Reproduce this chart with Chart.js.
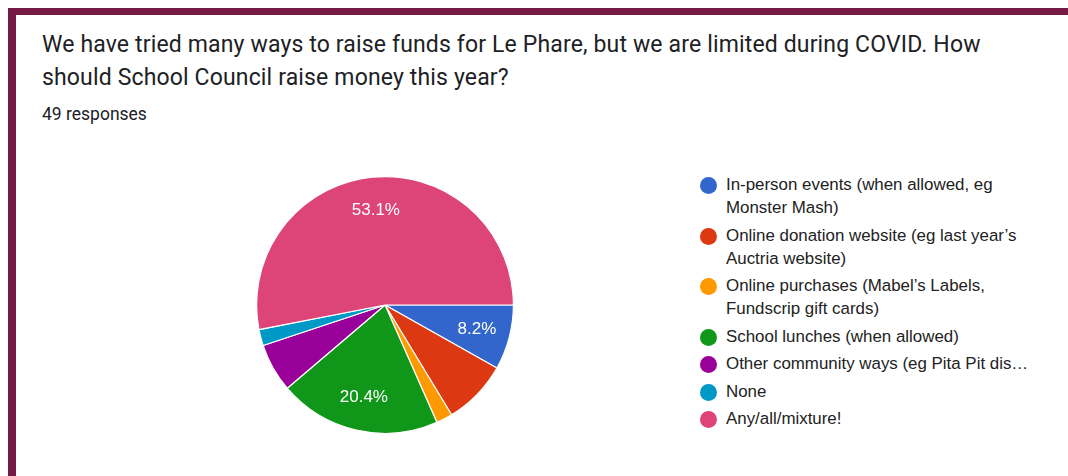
<!DOCTYPE html>
<html lang="en">
<head>
  <meta charset="UTF-8" />
  <title>School Council fundraising</title>
  <script src="https://cdn.jsdelivr.net/npm/chart.js"></script>
  <style>
    body {
      margin: 0;
      width: 1068px;
      height: 476px;
      background: #fff;
      position: relative;
      overflow: hidden;
      font-family: Roboto, 'Noto Sans', sans-serif;
      color: #202124;
    }

    /* maroon frame on the top and left edges */
    .frame {
      position: absolute;
      left: 8px;
      top: 8px;
      right: 0;
      bottom: 0;
      border-top: 7px solid #741a45;
      border-left: 8px solid #741a45;
    }

    .title {
      position: absolute;
      left: 42px;
      top: 28px;
      width: 960px;
      font-size: 23px;
      letter-spacing: 0.15px;
      line-height: 33px;
      margin: 0;
      font-weight: 400;
    }

    .count {
      position: absolute;
      left: 42px;
      top: 104px;
      font-size: 17.5px;
      line-height: 20px;
    }

    .pie-box {
      position: absolute;
      left: 256px;
      top: 176px;
      width: 258px;
      height: 258px;
    }

    .legend {
      position: absolute;
      left: 700px;
      top: 173px;
      width: 350px;
      font-family: 'Liberation Sans', Arial, sans-serif;
      font-size: 16.9px;
      line-height: 23px;
      color: #222;
    }

    .legend .item {
      display: flex;
      margin-bottom: 4.5px;
    }

    .legend .dot {
      width: 17px;
      height: 17px;
      border-radius: 50%;
      flex: none;
      margin-top: 4px;
      margin-right: 9px;
    }

    .legend .txt {
      width: 310px;
    }
  </style>
</head>
<body>
  <div class="frame"></div>
  <p class="title">We have tried many ways to raise funds for Le Phare, but we are limited during COVID. How should School Council raise money this year?</p>
  <div class="count" id="count"></div>

  <div class="pie-box"><canvas id="pie"></canvas></div>
  <div class="legend" id="legend"></div>

  <script>
    const categories = [
      'In-person events (when allowed, eg Monster Mash)',
      'Online donation website (eg last year\u2019s Auctria website)',
      'Online purchases (Mabel\u2019s Labels, Fundscrip gift cards)',
      'School lunches (when allowed)',
      'Other community ways (eg Pita Pit dis\u2026',
      'None',
      'Any/all/mixture!'
    ];
    const responses = [4, 4, 1, 10, 3, 1, 26];
    const colors = ['#3366cc', '#dc3912', '#ff9900', '#109618', '#990099', '#0099c6', '#dd4477'];
    // google only printed the percentage on these slices
    const labelled = [true, false, false, true, false, false, true];

    const total = responses.reduce((a, b) => a + b, 0);
    document.getElementById('count').textContent = total + ' responses';

    // html legend so the long labels can wrap like the original
    const legend = document.getElementById('legend');
    categories.forEach((c, i) => {
      const row = document.createElement('div');
      row.className = 'item';
      row.innerHTML = '<span class="dot" style="background:' + colors[i] + '"></span><span class="txt"></span>';
      row.querySelector('.txt').textContent = c;
      legend.appendChild(row);
    });

    const sliceLabels = {
      id: 'sliceLabels',
      afterDatasetsDraw(chart) {
        const ctx = chart.ctx;
        const arcs = chart.getDatasetMeta(0).data;
        ctx.save();
        ctx.fillStyle = '#fff';
        ctx.font = '17px "Liberation Sans", Arial, sans-serif';
        ctx.textAlign = 'center';
        ctx.textBaseline = 'middle';
        arcs.forEach((arc, i) => {
          if (!labelled[i]) return;
          const p = arc.getProps(['x', 'y', 'startAngle', 'endAngle', 'outerRadius'], true);
          const mid = (p.startAngle + p.endAngle) / 2;
          const r = p.outerRadius * 0.74;
          const pct = (responses[i] / total * 100).toFixed(1) + '%';
          ctx.fillText(pct, p.x + Math.cos(mid) * r, p.y + Math.sin(mid) * r);
        });
        ctx.restore();
      }
    };

    new Chart(document.getElementById('pie'), {
      type: 'pie',
      data: {
        labels: categories,
        datasets: [{
          data: responses,
          backgroundColor: colors,
          borderColor: '#ffffff',
          borderWidth: 1.2
        }]
      },
      options: {
        responsive: true,
        maintainAspectRatio: false,
        animation: false,
        rotation: 90,
        layout: { padding: 0 },
        plugins: {
          legend: { display: false },
          tooltip: { enabled: false }
        }
      },
      plugins: [sliceLabels]
    });
  </script>
</body>
</html>
